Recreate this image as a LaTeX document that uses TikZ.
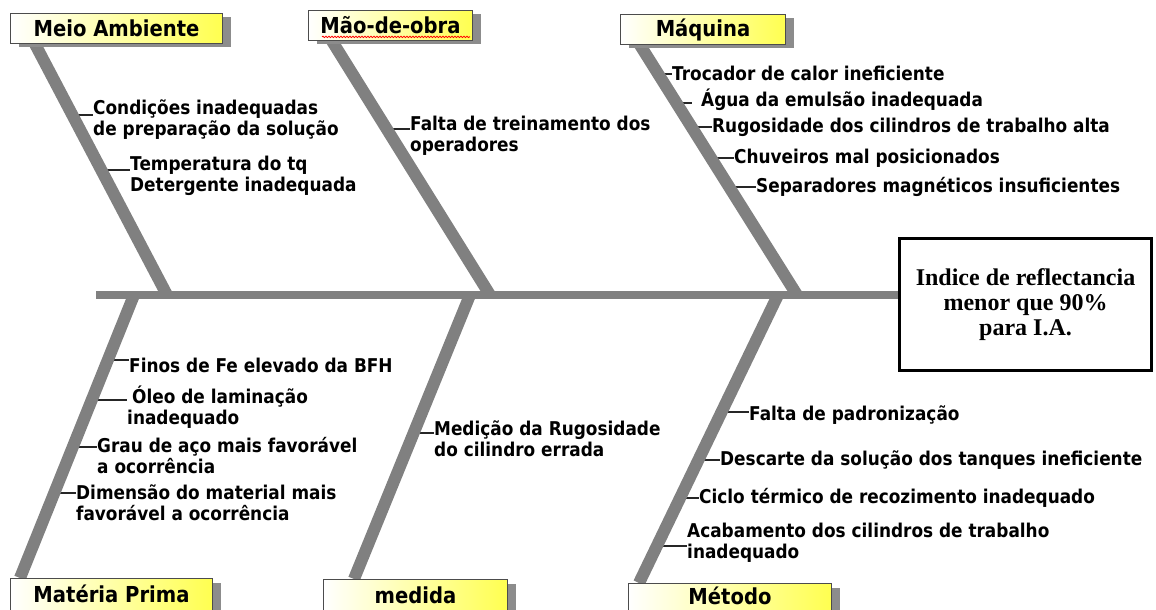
\documentclass[tikz,border=0pt]{standalone}
\usepackage{fontspec}
\newfontfamily\labelfont{DejaVu Sans}[FakeStretch=0.89]
\newfontfamily\effectfont{Liberation Serif}
\usetikzlibrary{shadows,decorations.pathmorphing}
\definecolor{bonegray}{RGB}{128,128,128}
\definecolor{boxyellow}{RGB}{255,255,80}
\pgfdeclarelayer{bg}
\pgfsetlayers{bg,main}

\begin{document}
\begin{tikzpicture}[
 x=1pt,y=-1pt,
 spine/.style={draw=bonegray,line width=8pt},
 bone/.style={draw=bonegray,line width=12pt},
 tick/.style={draw=black!85,line width=1.5pt},
 catbox/.style={draw=black!70,line width=1pt,left color=white,right color=boxyellow,
  drop shadow={shadow xshift=8pt,shadow yshift=-4pt,fill=black!45,opacity=1},
  font=\labelfont\bfseries\fontsize{22}{24}\selectfont,
  minimum height=30pt,inner sep=0pt,anchor=north west},
 lowbox/.style={catbox,text height=24pt,text depth=21pt},
 cause/.style={font=\labelfont\bfseries\fontsize{19}{21}\selectfont,
  align=left,inner sep=0pt,anchor=west},
 effect/.style={draw,line width=3pt,minimum width=252pt,minimum height=132pt,
  align=center,font=\effectfont\bfseries\fontsize{24}{25}\selectfont}]
 \useasboundingbox (0,0) rectangle (1156,610);
 \clip (0,0) rectangle (1156,610);
 % Effect at the head of the fish.
 \node[effect] (effect) at (1025.5,304.5) {Indice de reflectancia\\menor que 90\%\\para I.A.};
 \coordinate (tail) at (96,295);
 % Category boxes, three above and three below the spine.
 \node[catbox,minimum width=212pt] (meio) at (10,13) {Meio Ambiente};
 \node[catbox,minimum width=164pt] (mao) at (308,10) {Mão-de-obra};
 \node[catbox,minimum width=165pt] (maq) at (620,14) {Máquina};
 \node[lowbox,minimum width=202pt] (mat) at (10,578) {Matéria Prima};
 \node[lowbox,minimum width=184pt] (med) at (323,579) {medida};
 \node[lowbox,minimum width=203pt,text height=21pt] (met) at (628,583) {Método};
 \draw[red,line width=.8pt,decorate,decoration={snake,amplitude=.7pt,segment length=3pt}]
  ([xshift=14pt,yshift=-3pt]mao.base west) -- ([xshift=-3pt,yshift=-3pt]mao.base east);
 % Where the bones meet the spine.
 \coordinate (meioHead) at (167,295);
 \coordinate (maoHead) at (490,295);
 \coordinate (maqHead) at (797,295);
 \coordinate (matHead) at (134,295);
 \coordinate (medHead) at (470,295);
 \coordinate (metHead) at (778,295);
 % Causes: name / tick x / tick y / label x / label y / text.
 \foreach \n/\tx/\ty/\lx/\ly/\txt in {
  c1/72/115/93/120/{Condições inadequadas\\de preparação da solução},
  c2/101/170/130/176/{Temperatura do tq\\Detergente inadequada},
  c3/386/129/410/136/{Falta de treinamento dos\\operadores},
  m1/657/74/672/73/{Trocador de calor ineficiente},
  m2/676/103/692/100/{\hspace*{9pt}Água da emulsão inadequada},
  m3/691/127/712/127/{Rugosidade dos cilindros de trabalho alta},
  m4/711/158/734/158/{Chuveiros mal posicionados},
  m5/729/187/756/187/{Separadores magnéticos insuficientes},
  p1/108/360/129/365/{Finos de Fe elevado da BFH},
  p2/92/400/127/407/{\hspace*{5pt}Óleo de laminação\\inadequado},
  p3/73/447/97/456/{Grau de aço mais favorável\\a ocorrência},
  p4/55/493/76/503/{Dimensão do material mais\\favorável a ocorrência},
  d1/414/433/434/439/{Medição da Rugosidade\\do cilindro errada},
  t1/721/412/749/415/{Falta de padronização},
  t2/698/460/720/460/{Descarte da solução dos tanques ineficiente},
  t3/680/498/699/498/{Ciclo térmico de recozimento inadequado},
  t4/657/546/687/543/{Acabamento dos cilindros de trabalho\\inadequado}}{
  \node[cause] (\n) at (\lx,\ly) {\txt};
  \coordinate (k\n) at (\tx,\ty);
 }
 \begin{pgfonlayer}{bg}
  \foreach \n in {c1,c2,c3,m1,m2,m3,m4,m5,p1,p2,p3,p4,d1,t1,t2,t3,t4}
   \draw[tick] (k\n) -- (k\n -| \n.west);
  \draw[spine] (tail) -- (tail -| effect.west);
  \draw[bone] ([xshift=25pt]meio.south west) -- (meioHead);
  \draw[bone] ([xshift=24pt]mao.south west) -- (maoHead);
  \draw[bone] ([xshift=20pt]maq.south west) -- (maqHead);
  \draw[bone] ([xshift=10pt]mat.north west) -- (matHead);
  \draw[bone] ([xshift=31pt]med.north west) -- (medHead);
  \draw[bone] ([xshift=11pt]met.north west) -- (metHead);
 \end{pgfonlayer}
\end{tikzpicture}
\end{document}
